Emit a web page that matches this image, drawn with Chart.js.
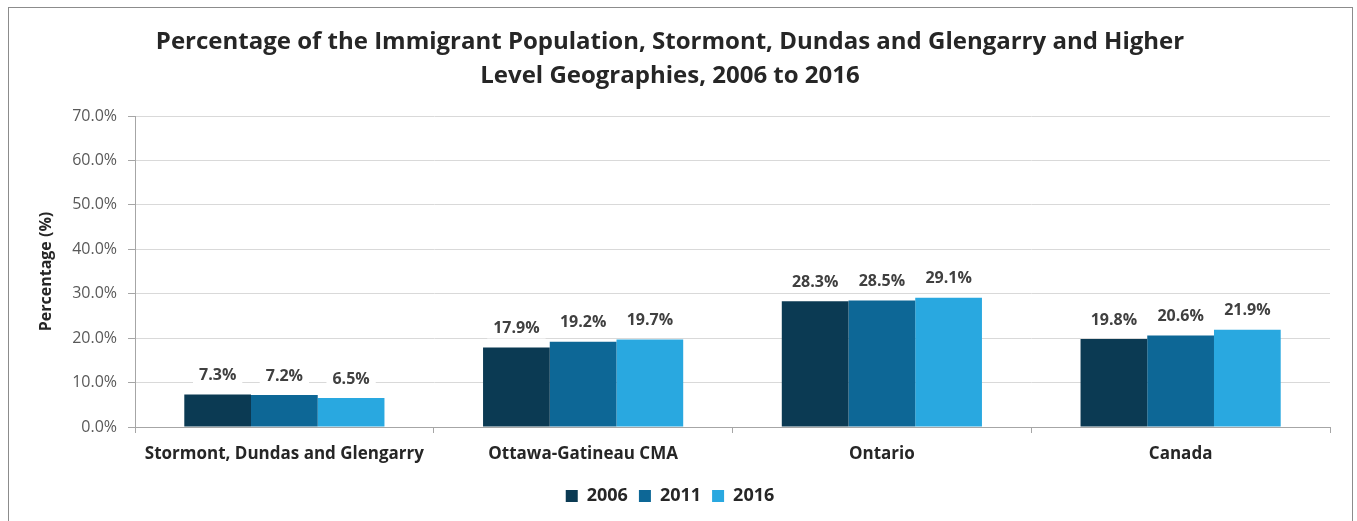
<!DOCTYPE html>
<html>
<head>
<meta charset="utf-8">
<script src="https://cdn.jsdelivr.net/npm/chart.js@4.4.1/dist/chart.umd.min.js"></script>
<style>
  html, body { margin: 0; padding: 0; background: #fff; }
  #wrap { position: relative; width: 1357px; height: 521px; }
  #frame { position: absolute; left: 8px; top: 7px; width: 1345px; height: 530px; border: 1px solid #8c8c8c; box-sizing: border-box; }
  canvas { position: absolute; left: 0; top: 0; }
</style>
</head>
<body>
<div id="wrap">
  <div id="frame"></div>
  <canvas id="chart" width="1357" height="521"></canvas>
</div>
<script>
// chart data
const categories = ['Stormont, Dundas and Glengarry', 'Ottawa-Gatineau CMA', 'Ontario', 'Canada'];
const years = ['2006', '2011', '2016'];
const values2006 = [7.3, 17.9, 28.3, 19.8];
const values2011 = [7.2, 19.2, 28.5, 20.6];
const values2016 = [6.5, 19.7, 29.1, 21.9];
const yTicks = [0, 10, 20, 30, 40, 50, 60, 70];
const colors = ['#0b3a53', '#0d6796', '#29a8e0'];

const FONT = '"Open Sans", Lato, sans-serif';

// labels above bars with white box behind (hides gridlines)
const barLabels = {
    id: 'barLabels',
    afterDatasetsDraw(chart) {
        const ctx = chart.ctx;
        ctx.save();
        ctx.font = 'bold 16px ' + FONT;
        ctx.textAlign = 'center';
        ctx.textBaseline = 'middle';
        chart.data.datasets.forEach((ds, i) => {
            chart.getDatasetMeta(i).data.forEach((bar, j) => {
                const txt = ds.data[j].toFixed(1) + '%';
                const y = bar.y - 19;
                const w = ctx.measureText(txt).width + 12;
                ctx.fillStyle = '#fff';
                ctx.fillRect(bar.x - w / 2, y - 10, w, 20);
                ctx.fillStyle = '#404040';
                ctx.fillText(txt, bar.x, y);
            });
        });
        ctx.restore();
    }
};

const ctx = document.getElementById('chart').getContext('2d');
new Chart(ctx, {
    type: 'bar',
    data: {
        labels: categories,
        datasets: [
            { label: years[0], data: values2006, backgroundColor: colors[0] },
            { label: years[1], data: values2011, backgroundColor: colors[1] },
            { label: years[2], data: values2016, backgroundColor: colors[2] }
        ]
    },
    options: {
        responsive: false,
        animation: false,
        layout: { padding: { left: 10, right: 27, top: 12, bottom: 6 } },
        datasets: { bar: { categoryPercentage: 0.67, barPercentage: 1.0 } },
        plugins: {
            title: {
                display: true,
                text: ['Percentage of the Immigrant Population, Stormont, Dundas and Glengarry and Higher', 'Level Geographies, 2006 to 2016'],
                color: '#262626',
                font: { family: FONT, size: 24, weight: 'bold', lineHeight: 1.417 },
                padding: { top: 13, bottom: 23 }
            },
            legend: {
                position: 'bottom',
                labels: {
                    color: '#262626',
                    font: { family: FONT, size: 18, weight: 'bold' },
                    boxWidth: 12,
                    boxHeight: 12,
                    padding: 11
                }
            },
            tooltip: { enabled: false }
        },
        scales: {
            x: {
                afterFit(axis) { axis.height = 49; },
                grid: { display: true, drawOnChartArea: false, offset: true, color: '#a6a6a6', tickLength: 6 },
                border: { color: '#a6a6a6' },
                ticks: { color: '#262626', font: { family: FONT, size: 17, weight: 'bold' }, padding: 11, maxRotation: 0 }
            },
            y: {
                min: 0,
                max: 70,
                afterBuildTicks(axis) { axis.ticks = yTicks.map(v => ({ value: v })); },
                afterFit(axis) { axis.width = 125; },
                grid: { color: '#d9d9d9', tickLength: 7, tickColor: '#a6a6a6' },
                border: { color: '#a6a6a6' },
                ticks: {
                    color: '#595959',
                    font: { family: FONT, size: 16 },
                    padding: 11,
                    callback: v => v.toFixed(1) + '%'
                },
                title: {
                    display: true,
                    text: 'Percentage (%)',
                    color: '#262626',
                    font: { family: FONT, size: 16, weight: 'bold' },
                    padding: { top: 27, bottom: 0 }
                }
            }
        }
    },
    plugins: [barLabels]
});
</script>
</body>
</html>
